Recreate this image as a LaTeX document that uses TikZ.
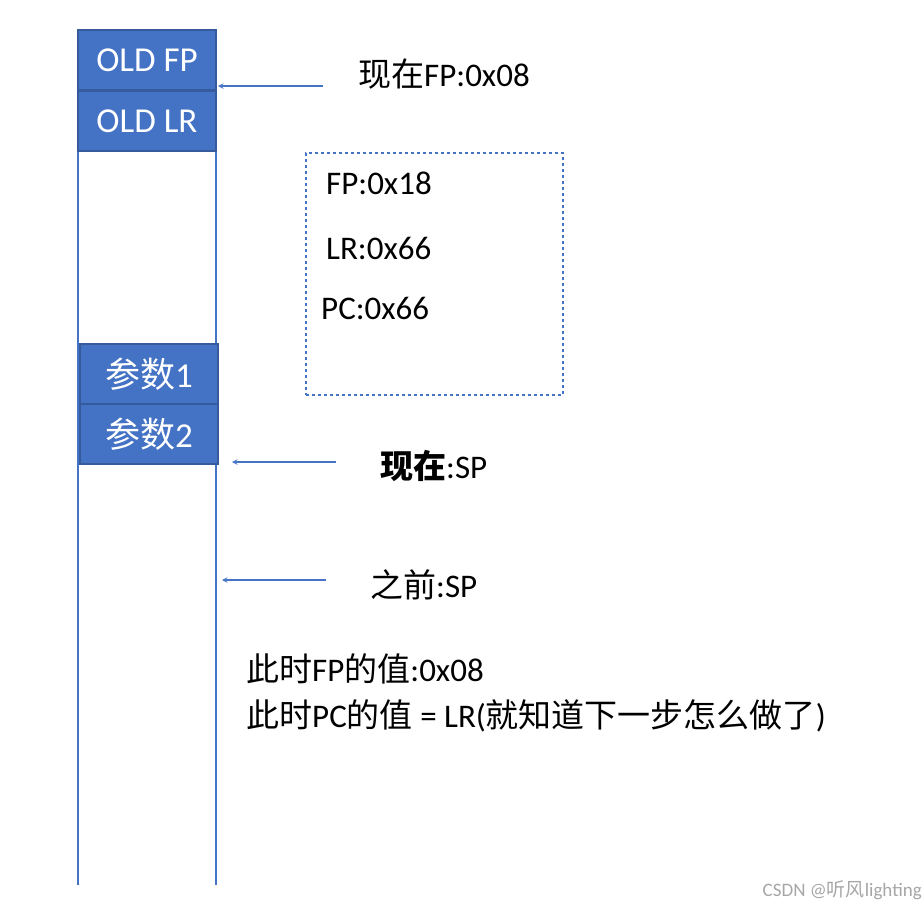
\documentclass[tikz,border=0pt]{standalone}
\usepackage{fontspec}
\setmainfont{Carlito}
\newfontfamily\cjk{Noto Sans CJK SC}
\definecolor{bl}{HTML}{4472C4}
\begin{document}
\begin{tikzpicture}[x=1pt,y=-1pt,
  cell/.style={draw=bl!80!black,fill=bl,text=white,minimum width=138pt,minimum height=60pt,inner sep=0pt,font=\fontsize{35}{40}\selectfont,line width=1.2pt},
  arr/.style={draw=bl,line width=1.4pt,->,>=stealth},
  lab/.style={anchor=west,font=\fontsize{33}{40}\selectfont,inner sep=0pt}]
\useasboundingbox (0,0) rectangle (924,906);
\coordinate (l1) at (78,30); \coordinate (l1b) at (78,885);
\coordinate (l2) at (216,30); \coordinate (l2b) at (216,885);
\draw[bl,line width=1.5pt] (l1)--(l1b) (l2)--(l2b);
\node[cell] (ofp) at (147,60) {OLD FP};
\node[cell] (olr) at (147,121) {OLD LR};
\node[cell] (p1) at (149,374) {{\cjk 参数}1};
\node[cell] (p2) at (149,434) {{\cjk 参数}2};
\node[draw=bl,dashed,line width=1.4pt,minimum width=257pt,minimum height=242pt] (box) at (434.5,274) {};
\node[lab] (t1) at (358,74) {{\cjk 现在}FP:0x08};
\node[lab] (b1) at (326,183) {FP:0x18};
\node[lab] (b2) at (326,248) {LR:0x66};
\node[lab] (b3) at (321,308) {PC:0x66};
\node[lab] (t2) at (380,466) {{\cjk\bfseries 现在}:SP};
\node[lab] (t3) at (370,585) {{\cjk 之前}:SP};
\node[lab] (t4) at (246,669) {{\cjk 此时}FP{\cjk 的值}:0x08};
\node[lab] (t5) at (246,716) {{\cjk 此时}PC{\cjk 的值} = LR({\cjk 就知道下一步怎么做了})};
\coordinate (a1s) at (323,86); \coordinate (a1e) at (218,86);
\coordinate (a2s) at (336,462); \coordinate (a2e) at (232,462);
\coordinate (a3s) at (326,580); \coordinate (a3e) at (222,580);
\draw[arr] (a1s)--(a1e);
\draw[arr] (a2s)--(a2e);
\draw[arr] (a3s)--(a3e);
\node[anchor=east,text=gray!70,font=\fontsize{19}{22}\selectfont,inner sep=0pt] (wm) at (922,890) {CSDN @{\cjk 听风}lighting};
\end{tikzpicture}
\end{document}
